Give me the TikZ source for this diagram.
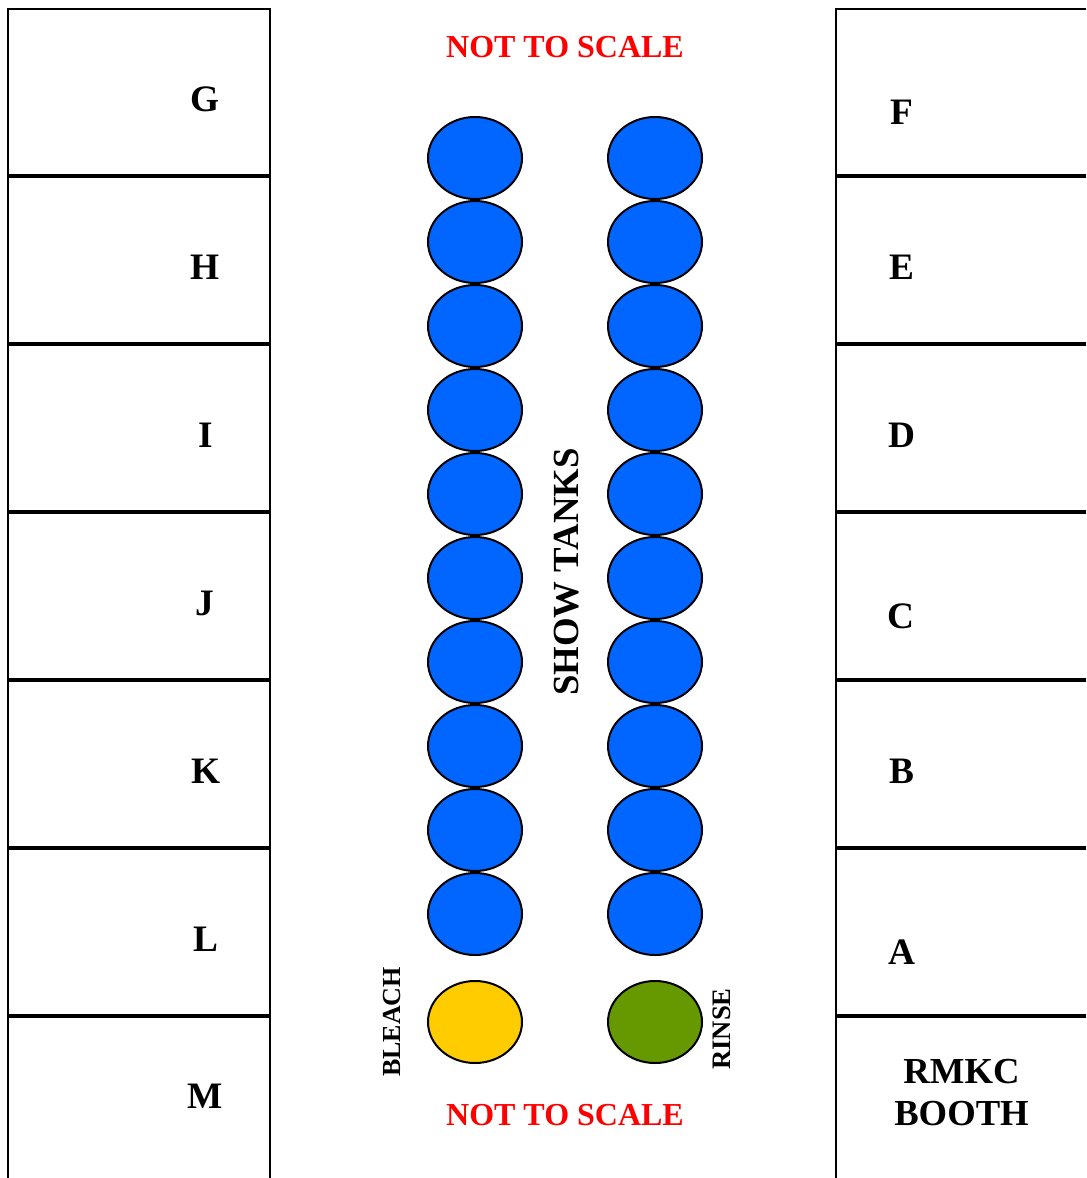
\documentclass[tikz,border=0pt]{standalone}
\usepackage{fontspec}
\setmainfont{Liberation Serif}
\definecolor{tankblue}{HTML}{0066FF}
\definecolor{bleachyellow}{HTML}{FFCC00}
\definecolor{rinsegreen}{HTML}{669900}
\tikzset{
  x=0.75pt,y=-0.75pt,
  boxline/.style={draw=black,line width=1.6pt},
  sepline/.style={draw=black,line width=2.6pt},
  tank/.style={ellipse,draw=black,line width=1.5pt,minimum width=70.5pt,minimum height=61.5pt,inner sep=0pt,outer sep=0pt},
  letter/.style={font=\fontsize{28}{30}\selectfont\bfseries,inner sep=0pt},
  redtext/.style={font=\fontsize{24}{28}\selectfont\bfseries,text=red,inner sep=0pt},
}
\usetikzlibrary{shapes.geometric}
\begin{document}
\begin{tikzpicture}
\useasboundingbox (0,0) rectangle (1086,1178);
\fill[white] (0,0) rectangle (1086,1178);
% outlines
\draw[boxline] (8,1178) -- (8,9) -- (270,9) -- (270,1178);
\draw[boxline] (1086,9) -- (836,9) -- (836,1178);
% separators
\foreach \yy in {176,344,512,680,848,1016}{
  \draw[sepline] (8,\yy) -- (270,\yy);
  \draw[sepline] (836,\yy) -- (1086,\yy);
}
% tanks
\foreach \i in {0,...,9}{
  \node[tank,fill=tankblue] (l\i) at (475,158+84*\i) {};
  \node[tank,fill=tankblue] (r\i) at (655,158+84*\i) {};
}
\node[tank,fill=bleachyellow] (bleach) at (475,1022) {};
\node[tank,fill=rinsegreen] (rinse) at (655,1022) {};
% letters
\node[letter] (G) at (205.5,99) {G};
\node[letter] (H) at (205.5,267) {H};
\node[letter] (I) at (205.5,435) {I};
\node[letter] (J) at (205,603) {J};
\node[letter] (K) at (206,771) {K};
\node[letter] (L) at (205.5,939) {L};
\node[letter] (M) at (205.5,1096) {M};
\node[letter] (F) at (901.5,112) {F};
\node[letter] (E) at (901.5,267) {E};
\node[letter] (D) at (901.5,435) {D};
\node[letter] (C) at (901,616) {C};
\node[letter] (B) at (901.5,771) {B};
\node[letter] (A) at (901.5,952) {A};
\node[letter,align=center,font=\fontsize{27.5}{31.5}\selectfont\bfseries] (booth) at (961.5,1093) {RMKC\\BOOTH};
% labels
\node[redtext] (top) at (565,47.5) {NOT TO SCALE};
\node[redtext] (bottom) at (565,1115.5) {NOT TO SCALE};
\node[rotate=90,inner sep=0pt,font=\fontsize{27.6}{30}\selectfont\bfseries] (show) at (567,572) {SHOW TANKS};
\node[rotate=90,inner sep=0pt,font=\fontsize{19.5}{21}\selectfont\bfseries] (bl) at (392,1022) {BLEACH};
\node[rotate=90,inner sep=0pt,font=\fontsize{20}{22}\selectfont\bfseries] (ri) at (722,1029) {RINSE};
\end{tikzpicture}
\end{document}
